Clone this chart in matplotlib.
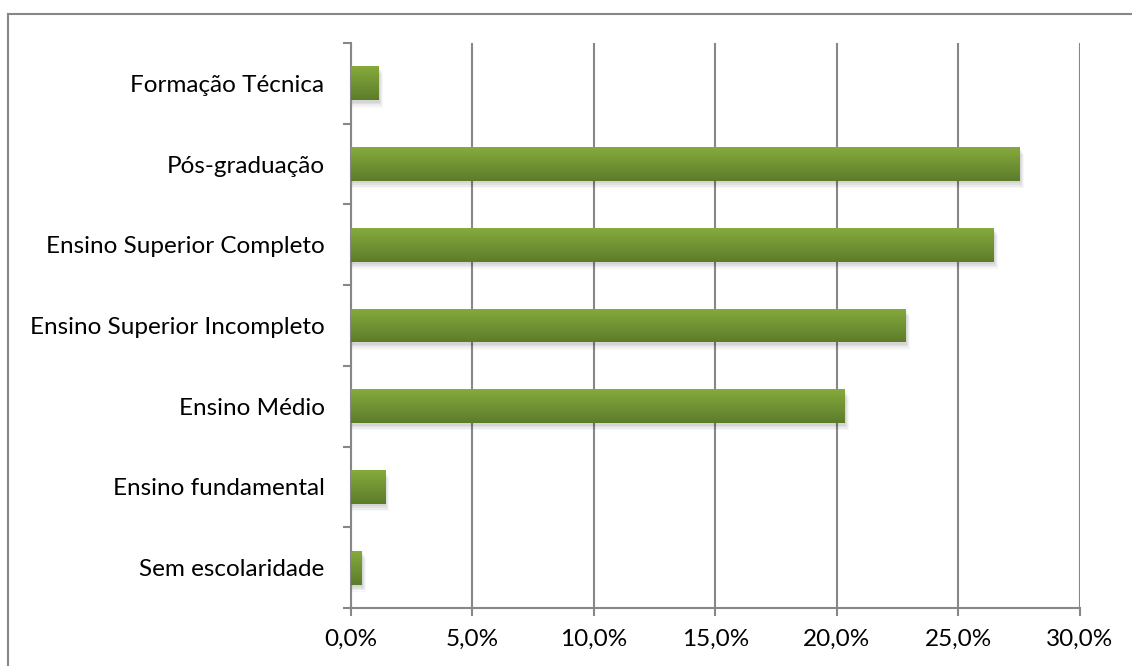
import numpy as np
import matplotlib
matplotlib.use("Agg")
import matplotlib.pyplot as plt
from matplotlib.patches import Rectangle
from matplotlib.colors import LinearSegmentedColormap
from matplotlib.ticker import FuncFormatter

categorias = ["Sem escolaridade", "Ensino fundamental", "Ensino Médio",
              "Ensino Superior Incompleto", "Ensino Superior Completo",
              "Pós-graduação", "Formação Técnica"]
percentuais = [0.42, 1.40, 20.32, 22.82, 26.44, 27.50, 1.12]
marcas_x = [0, 5, 10, 15, 20, 25, 30]

plt.rcParams["font.family"] = ["Lato", "DejaVu Sans"]
cinza = "#878787"
altura = 0.42
fonte = 17.5

# degradê verde das barras (claro em cima, escuro embaixo)
verde = LinearSegmentedColormap.from_list("verde", ["#5d7c2b", "#86aa3c"])
grad = np.linspace(0, 1, 64).reshape(-1, 1)

fig = plt.figure(figsize=(11.32, 6.66), dpi=100)
ax = fig.add_axes([0.310, 0.0871, 0.644, 0.8483])

for i, v in enumerate(percentuais):
    # sombra suave deslocada para baixo/direita
    for k, a in enumerate([0.05, 0.05, 0.04, 0.03]):
        dx = 0.06 + 0.04 * k
        dy = 0.03 + 0.02 * k
        ax.add_patch(Rectangle((0, i - altura / 2 - dy), v + dx, altura,
                               color="black", alpha=a, lw=0, zorder=2))
    im = ax.imshow(grad, cmap=verde, aspect="auto", origin="lower",
                   extent=(0, v, i - altura / 2, i + altura / 2), zorder=3)
    r = Rectangle((0, i - altura / 2), v, altura, transform=ax.transData,
                  fill=False, lw=0)
    ax.add_patch(r)
    im.set_clip_path(r)

ax.set_xlim(0, 30)
ax.set_ylim(-0.5, len(categorias) - 0.5)

ax.set_xticks(marcas_x)
ax.xaxis.set_major_formatter(FuncFormatter(lambda x, p: f"{x:.1f}%".replace(".", ",")))
ax.grid(axis="x", color=cinza, lw=1.5, zorder=1)
ax.set_axisbelow(True)

ax.set_yticks(np.arange(-0.5, len(categorias), 1))
ax.set_yticklabels([])
ax.set_yticks(range(len(categorias)), minor=True)
ax.set_yticklabels(categorias, minor=True)

ax.tick_params(axis="x", length=6, width=1.5, color=cinza, pad=9,
               labelsize=fonte, labelcolor="black")
ax.tick_params(axis="y", which="major", length=6, width=1.5, color=cinza)
ax.tick_params(axis="y", which="minor", length=0, pad=19,
               labelsize=fonte, labelcolor="black")

for s in ["top", "right"]:
    ax.spines[s].set_visible(False)
for s in ["left", "bottom"]:
    ax.spines[s].set_color(cinza)
    ax.spines[s].set_linewidth(1.5)

# moldura do gráfico (sem lados direito e inferior)
fig.add_artist(plt.Line2D([0.0075, 0.0075], [0, 0.9797], color=cinza, lw=1.5,
                          transform=fig.transFigure))
fig.add_artist(plt.Line2D([0.0075, 1.0], [0.9797, 0.9797], color=cinza, lw=1.5,
                          transform=fig.transFigure))

fig.savefig("out.png", dpi=100)
